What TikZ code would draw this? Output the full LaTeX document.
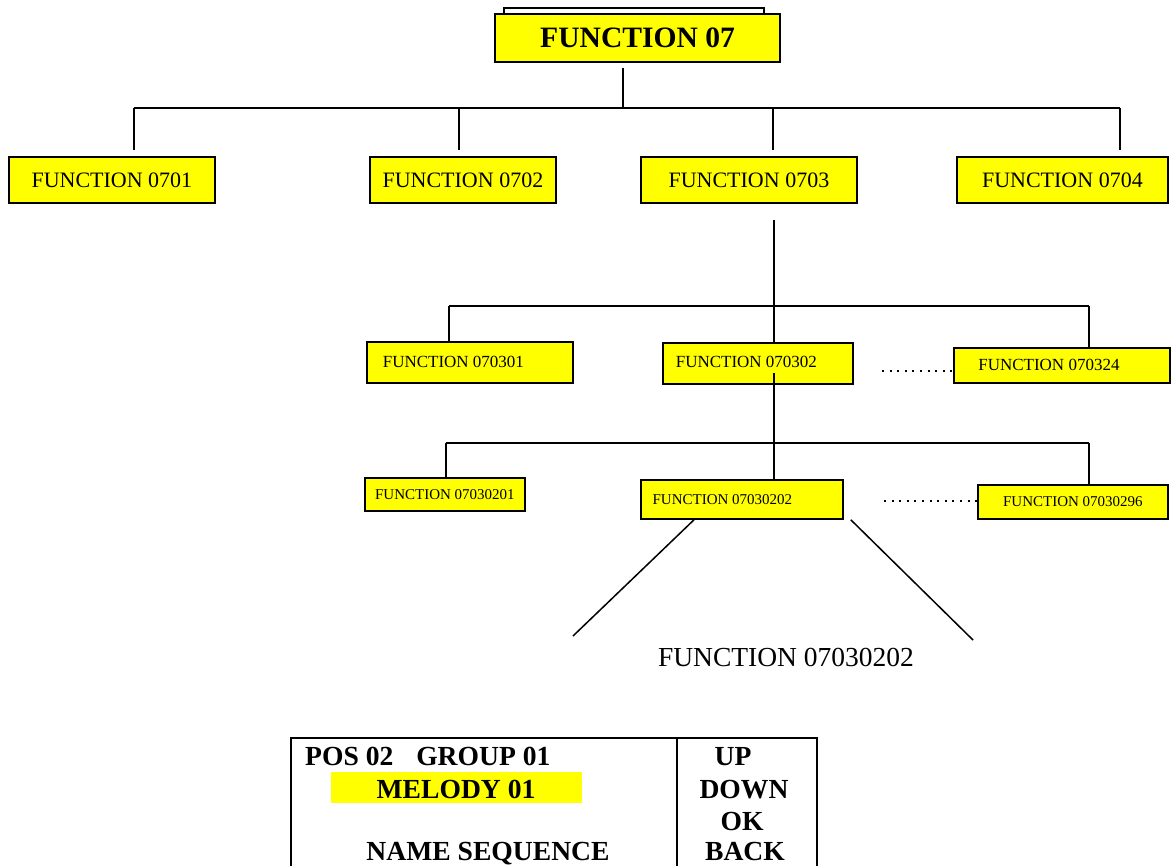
\documentclass[tikz,border=0pt]{standalone}
\usepackage{fontspec}
\setmainfont{Liberation Serif}
\usetikzlibrary{calc}
\definecolor{fnyellow}{RGB}{255,255,0}

\tikzset{
  fn/.style={draw,fill=fnyellow,line width=1.8pt,anchor=north west,inner sep=0pt},
  lvlA/.style={font=\fontsize{22}{26}\selectfont},
  lvlB/.style={font=\fontsize{17}{20}\selectfont},
  lvlC/.style={font=\fontsize{15}{18}\selectfont},
  wire/.style={line width=1.5pt},
  dots/.style={line width=2pt,dash pattern=on 2pt off 5.6pt},
  lcd/.style={font=\fontsize{27.6}{30}\selectfont\bfseries,inner sep=0pt},
}

\begin{document}
\begin{tikzpicture}[x=1pt,y=-1pt]
  \useasboundingbox (0,0) rectangle (1174,865);
  \clip (0,0) rectangle (1174,865);
  % root box
  \draw[line width=1.2pt,fill=white] (504,8) rectangle (764,30);
  \node[fn,line width=2.2pt,minimum width=285pt,minimum height=48pt,
        font=\fontsize{29.6}{32}\selectfont\bfseries] (f07) at (494,13) {FUNCTION 07};
  % first level
  \node[fn,lvlA,minimum width=206pt,minimum height=46pt] (n0701) at (8,156) {FUNCTION 0701};
  \node[fn,lvlA,minimum width=186pt,minimum height=46pt] (n0702) at (369,156) {FUNCTION 0702};
  \node[fn,lvlA,minimum width=216pt,minimum height=46pt] (n0703) at (640,156) {FUNCTION 0703};
  \node[fn,lvlA,minimum width=211pt,minimum height=46pt] (n0704) at (956,156) {FUNCTION 0704};
  \coordinate (busA) at (623,108);
  \coordinate (busA-w) at (134,108);
  \coordinate (busA-e) at (1120,108);
  \draw[wire,shorten <=5pt] (busA |- f07.south) -- (busA);
  \draw[wire] (busA-w) -- (busA-e);
  \foreach \x/\n in {134/0701,459/0702,773/0703,1120/0704}
    \draw[wire,shorten >=6pt] (\x,108) -- (\x,108 |- n\n.north);
  % second level
  \node[fn,lvlB,minimum width=206pt,minimum height=41pt] (n070301) at (366,341) {FUNCTION 070301\hspace*{33pt}};
  \node[fn,lvlB,minimum width=190pt,minimum height=41pt] (n070302) at (662,342) {FUNCTION 070302\hspace*{23pt}\raisebox{0pt}[\height][4pt]{}};
  \node[fn,lvlB,minimum width=216pt,minimum height=35pt] (n070324) at (953,347) {FUNCTION 070324\hspace*{26pt}};
  \coordinate (busB) at (774,306);
  \coordinate (busB-w) at (449,306);
  \coordinate (busB-e) at (1089,306);
  \draw[wire,shorten <=16pt] (busB |- n0703.south) -- (busB);
  \draw[wire] (busB-w) -- (busB-e);
  \foreach \x/\n in {449/070301,774/070302,1089/070324}
    \draw[wire] (\x,306) -- (\x,306 |- n\n.north);
  \coordinate (dotsB) at (882,371);
  \draw[dots] (dotsB) -- (dotsB -| n070324.west);
  % third level
  \node[fn,lvlC,minimum width=160pt,minimum height=33pt] (n07030201) at (364,477) {FUNCTION 07030201};
  \node[fn,lvlC,minimum width=202pt,minimum height=39pt] (n07030202) at (640,479) {FUNCTION 07030202\hspace*{39pt}};
  \node[fn,lvlC,minimum width=190pt,minimum height=34pt] (n07030296) at (977,484) {FUNCTION 07030296};
  \coordinate (busC) at (774,443);
  \coordinate (busC-w) at (446,443);
  \coordinate (busC-e) at (1089,443);
  \draw[wire] ($(busC |- n070302.south)+(0,-12)$) -- (busC);
  \draw[wire] (busC-w) -- (busC-e);
  \foreach \x/\n in {446/07030201,774/07030202,1089/07030296}
    \draw[wire] (\x,443) -- (\x,443 |- n\n.north);
  \coordinate (dotsC) at (884,501);
  \draw[dots] (dotsC) -- (dotsC -| n07030296.west);
  % zoom onto the display
  \coordinate (viewL) at (573,636);
  \coordinate (viewR) at (973,640);
  \draw[wire] ($(n07030202.south west)+(54,0)$) -- (viewL);
  \draw[wire] ($(n07030202.south east)+(7,0)$) -- (viewR);
  \node[font=\fontsize{27.5}{30}\selectfont] (zoomlbl) at (786,657) {FUNCTION 07030202};
  % display
  \draw[line width=1.6pt] (291,738) rectangle (817,900);
  \draw[line width=1.6pt] (677,738) -- (677,900);
  \fill[fnyellow] (331,772) rectangle (582,803);
  \node[lcd,anchor=base west] (pos) at (305,765) {POS 02\hspace{16pt} GROUP 01};
  \node[lcd,anchor=base] (melody) at (456,798) {MELODY 01};
  \node[lcd,anchor=base] (nameseq) at (488,860) {NAME SEQUENCE};
  \node[lcd,anchor=base] (up) at (733,765) {UP};
  \node[lcd,anchor=base] (down) at (744,798) {DOWN};
  \node[lcd,anchor=base] (ok) at (742,830) {OK};
  \node[lcd,anchor=base] (back) at (745,860) {BACK};
\end{tikzpicture}
\end{document}
